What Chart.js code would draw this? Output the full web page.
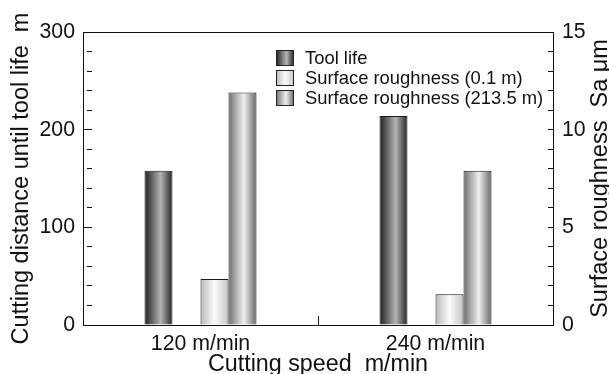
<!DOCTYPE html>
<html>
<head>
<meta charset="utf-8">
<script src="https://cdn.jsdelivr.net/npm/chart.js@4.4.1/dist/chart.umd.min.js"></script>
<style>
  html, body { margin: 0; padding: 0; background: #fff; }
  #wrap { width: 609px; height: 374px; }
</style>
</head>
<body>
<div id="wrap"><canvas id="cuttingChart"></canvas></div>
<script>
var categories = ['120 m/min', '240 m/min'];
var toolLife = [158, 214];
var roughnessStart = [2.35, 1.57];
var roughnessEnd = [11.9, 7.9];
var seriesNames = ['Tool life', 'Surface roughness (0.1 m)', 'Surface roughness (213.5 m)'];
var leftTicks = [0, 100, 200, 300];
var rightTicks = [0, 5, 10, 15];

// cylinder-like shading for each series
var toolStops = [[0, '#1e1e1e'], [0.58, '#b4b4b4'], [1, '#232323']];
var startStops = [[0, '#b9b9b9'], [0.5, '#fbfbfb'], [1, '#c4c4c4']];
var endStops = [[0, '#6e6e6e'], [0.55, '#efefef'], [1, '#666666']];

Chart.defaults.font.family = "'Liberation Sans', Arial, Helvetica, sans-serif";
Chart.defaults.color = '#111';

function fillFor(ctx, x0, x1, stops) {
    var g = ctx.createLinearGradient(x0, 0, x1, 0);
    stops.forEach(function (s) { g.addColorStop(s[0], s[1]); });
    return g;
}

function shade(stops) {
    return function (c) {
        var el = c.element;
        if (!el || !el.width) return stops[1][1];
        return fillFor(c.chart.ctx, el.x - el.width / 2, el.x + el.width / 2, stops);
    };
}

var extras = {
    id: 'extras',
    afterDraw: function (chart) {
        var ctx = chart.ctx, ca = chart.chartArea;
        ctx.save();
        // frame top
        ctx.strokeStyle = '#111';
        ctx.lineWidth = 1;
        ctx.beginPath();
        ctx.moveTo(Math.round(ca.left) + 0.5, Math.round(ca.top) + 0.5);
        ctx.lineTo(Math.round(ca.right) + 0.5, Math.round(ca.top) + 0.5);
        ctx.stroke();

        // legend
        var stopsList = [toolStops, startStops, endStops];
        var bx = ca.left + 193, by = ca.top + 18;
        ctx.font = "18.4px 'Liberation Sans', Arial, sans-serif";
        ctx.textBaseline = 'middle';
        ctx.textAlign = 'left';
        seriesNames.forEach(function (name, i) {
            var y = by + i * 20;
            ctx.fillStyle = fillFor(ctx, bx, bx + 18, stopsList[i]);
            ctx.fillRect(bx, y, 18, 16);
            ctx.strokeStyle = '#222';
            ctx.strokeRect(bx + 0.5, y + 0.5, 17, 15);
            ctx.fillStyle = '#111';
            ctx.fillText(name, bx + 29, y + 8.5);
        });

        // right axis title, reading upward
        ctx.translate(607, (ca.top + ca.bottom) / 2);
        ctx.rotate(-Math.PI / 2);
        ctx.font = "23.5px 'Liberation Sans', Arial, sans-serif";
        ctx.textAlign = 'center';
        ctx.textBaseline = 'alphabetic';
        ctx.fillText('Surface roughness  Sa \u03bcm', 0, 0);
        ctx.restore();
    }
};

var ctx = document.getElementById('cuttingChart').getContext('2d');
var chart = new Chart(ctx, {
    type: 'bar',
    data: {
        labels: categories,
        datasets: [{
            label: seriesNames[0],
            data: toolLife,
            yAxisID: 'y',
            backgroundColor: shade(toolStops),
            borderColor: '#1a1a1a',
            borderWidth: 1
        }, {
            // empty slot keeps the gap between tool life and roughness bars
            label: '',
            data: [null, null],
            yAxisID: 'y'
        }, {
            label: seriesNames[1],
            data: roughnessStart,
            yAxisID: 'y2',
            backgroundColor: shade(startStops),
            borderColor: '#1a1a1a',
            borderWidth: 1
        }, {
            label: seriesNames[2],
            data: roughnessEnd,
            yAxisID: 'y2',
            backgroundColor: shade(endStops),
            borderColor: '#1a1a1a',
            borderWidth: 1
        }]
    },
    options: {
        responsive: true,
        maintainAspectRatio: false,
        animation: false,
        layout: { padding: { top: 32, left: 0, right: 0, bottom: 0 } },
        datasets: {
            bar: { categoryPercentage: 0.4766, barPercentage: 1 }
        },
        plugins: {
            legend: { display: false },
            tooltip: { enabled: false }
        },
        scales: {
            x: {
                grid: { drawOnChartArea: false, drawTicks: true, tickLength: -9, color: '#111', offset: true },
                border: { display: true, color: '#111', width: 1 },
                ticks: { font: { size: 21.3 }, color: '#111', padding: 15, maxRotation: 0 },
                title: { display: true, text: 'Cutting speed  m/min', font: { size: 23.3 }, color: '#111', padding: { top: 0, bottom: -5 } },
                afterFit: function (s) { s.height = 49; }
            },
            y: {
                position: 'left',
                min: 0,
                max: 300,
                grid: {
                    drawOnChartArea: false,
                    tickLength: -9,
                    color: '#111',
                    tickBorderDash: function (c) {
                        return leftTicks.indexOf(c.tick.value) >= 0 ? [] : [5, 30];
                    }
                },
                border: { display: true, color: '#111', width: 1 },
                ticks: {
                    stepSize: 20,
                    autoSkip: false,
                    font: { size: 21.3 },
                    color: '#111',
                    padding: 17,
                    callback: function (v) { return leftTicks.indexOf(v) >= 0 ? v : ''; }
                },
                title: { display: true, text: 'Cutting distance until tool life  m', font: { size: 23.5 }, color: '#111', padding: { top: 7, bottom: 0 } },
                afterFit: function (s) { s.width = 83; }
            },
            y2: {
                position: 'right',
                min: 0,
                max: 15,
                grid: { drawOnChartArea: false, tickLength: -5, color: '#111' },
                border: { display: true, color: '#111', width: 1 },
                ticks: {
                    stepSize: 1,
                    autoSkip: false,
                    font: { size: 21.3 },
                    color: '#111',
                    padding: 14,
                    callback: function (v) { return rightTicks.indexOf(v) >= 0 ? v : ''; }
                },
                afterFit: function (s) { s.width = 56; }
            }
        }
    },
    plugins: [extras]
});
// second pass so the shading can read each bar's final position
chart.update('none');
</script>
</body>
</html>
